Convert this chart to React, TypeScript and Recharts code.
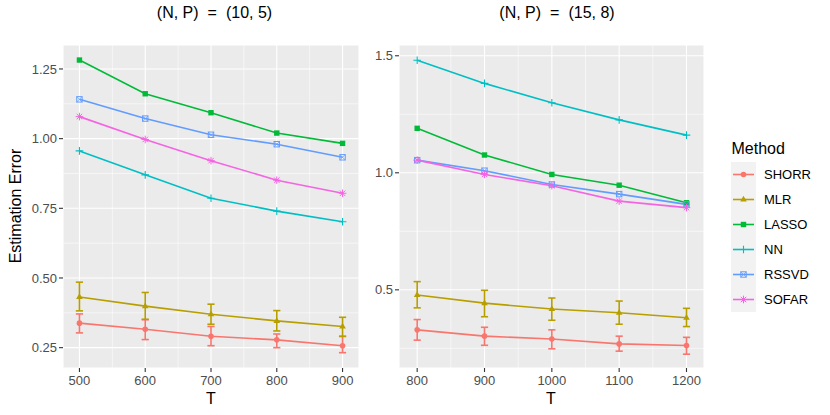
import React from "react";
import { CartesianGrid, ErrorBar, Line, LineChart, ReferenceLine, XAxis, YAxis } from "recharts";

const methods = ["SHORR", "MLR", "LASSO", "NN", "RSSVD", "SOFAR"];
const methodColors = ["#F8766D", "#B79F00", "#00BA38", "#00BFC4", "#619CFF", "#F564E3"];
const methodShapes = ["circle", "triangle", "square", "plus", "squareCross", "asterisk"];

// (N, P) = (10, 5)
const tLeft = [500, 600, 700, 800, 900];
const leftShorr = [0.338, 0.316, 0.291, 0.278, 0.257];
const leftShorrLow = [0.303, 0.279, 0.257, 0.25, 0.232];
const leftShorrHigh = [0.371, 0.35, 0.326, 0.299, 0.29];
const leftMlr = [0.432, 0.399, 0.37, 0.346, 0.326];
const leftMlrLow = [0.382, 0.352, 0.334, 0.31, 0.291];
const leftMlrHigh = [0.485, 0.448, 0.406, 0.383, 0.359];
const leftLasso = [1.282, 1.161, 1.093, 1.02, 0.983];
const leftNn = [0.956, 0.87, 0.786, 0.74, 0.702];
const leftRssvd = [1.141, 1.072, 1.014, 0.98, 0.933];
const leftSofar = [1.079, 0.997, 0.921, 0.851, 0.804];

// (N, P) = (15, 8)
const tRight = [800, 900, 1000, 1100, 1200];
const rightShorr = [0.329, 0.302, 0.29, 0.269, 0.262];
const rightShorrLow = [0.285, 0.263, 0.248, 0.238, 0.225];
const rightShorrHigh = [0.373, 0.34, 0.329, 0.302, 0.297];
const rightMlr = [0.478, 0.443, 0.418, 0.402, 0.381];
const rightMlrLow = [0.423, 0.385, 0.37, 0.353, 0.343];
const rightMlrHigh = [0.535, 0.498, 0.465, 0.452, 0.421];
const rightLasso = [1.19, 1.076, 0.993, 0.947, 0.872];
const rightNn = [1.481, 1.382, 1.299, 1.226, 1.161];
const rightRssvd = [1.054, 1.009, 0.95, 0.909, 0.865];
const rightSofar = [1.054, 0.993, 0.945, 0.879, 0.851];

const leftYTicks = [0.25, 0.5, 0.75, 1.0, 1.25];
const leftYMinor = [0.375, 0.625, 0.875, 1.125];
const leftXMinor = [550, 650, 750, 850];
const rightYTicks = [0.5, 1.0, 1.5];
const rightYMinor = [0.25, 0.75, 1.25];
const rightXMinor = [850, 950, 1050, 1150];

const FONT = "'Liberation Sans', Arial, Helvetica, sans-serif";

function buildRows(
  ts: number[],
  shorr: number[], shorrLow: number[], shorrHigh: number[],
  mlr: number[], mlrLow: number[], mlrHigh: number[],
  lasso: number[], nn: number[], rssvd: number[], sofar: number[],
) {
  return ts.map((t, i) => ({
    T: t,
    SHORR: shorr[i],
    SHORR_err: [shorr[i] - shorrLow[i], shorrHigh[i] - shorr[i]],
    MLR: mlr[i],
    MLR_err: [mlr[i] - mlrLow[i], mlrHigh[i] - mlr[i]],
    LASSO: lasso[i],
    NN: nn[i],
    RSSVD: rssvd[i],
    SOFAR: sofar[i],
  }));
}

const leftRows = buildRows(tLeft, leftShorr, leftShorrLow, leftShorrHigh, leftMlr, leftMlrLow, leftMlrHigh, leftLasso, leftNn, leftRssvd, leftSofar);
const rightRows = buildRows(tRight, rightShorr, rightShorrLow, rightShorrHigh, rightMlr, rightMlrLow, rightMlrHigh, rightLasso, rightNn, rightRssvd, rightSofar);

function Marker({ shape, cx, cy, color }: { shape: string; cx: number; cy: number; color: string }) {
  if (shape === "circle") return <circle cx={cx} cy={cy} r={2.8} fill={color} />;
  if (shape === "triangle")
    return <polygon points={`${cx},${cy - 3.7} ${cx - 3.3},${cy + 2} ${cx + 3.3},${cy + 2}`} fill={color} />;
  if (shape === "square") return <rect x={cx - 2.7} y={cy - 2.7} width={5.4} height={5.4} fill={color} />;
  if (shape === "plus")
    return <path d={`M${cx - 3.8},${cy}H${cx + 3.8}M${cx},${cy - 3.8}V${cy + 3.8}`} stroke={color} strokeWidth={1.1} fill="none" />;
  if (shape === "squareCross")
    return (
      <g stroke={color} strokeWidth={1} fill="none">
        <rect x={cx - 2.7} y={cy - 2.7} width={5.4} height={5.4} />
        <path d={`M${cx - 2.7},${cy - 2.7}L${cx + 2.7},${cy + 2.7}M${cx - 2.7},${cy + 2.7}L${cx + 2.7},${cy - 2.7}`} strokeWidth={0.7} />
      </g>
    );
  const d = 2.7;
  return (
    <path
      d={`M${cx - 3.8},${cy}H${cx + 3.8}M${cx},${cy - 3.8}V${cy + 3.8}M${cx - d},${cy - d}L${cx + d},${cy + d}M${cx - d},${cy + d}L${cx + d},${cy - d}`}
      stroke={color}
      strokeWidth={1}
      fill="none"
    />
  );
}

type PanelProps = {
  rows: any[];
  left: number;
  width: number;
  marginLeft: number;
  yAxisWidth: number;
  xDomain: [number, number];
  xTicks: number[];
  xMinor: number[];
  yDomain: [number, number];
  yTicks: number[];
  yMinor: number[];
  digits: number;
};

function Panel({ rows, left, width, marginLeft, yAxisWidth, xDomain, xTicks, xMinor, yDomain, yTicks, yMinor, digits }: PanelProps) {
  const tick = { fontSize: 13, fill: "#4D4D4D", fontFamily: FONT };
  return (
    <div style={{ position: "absolute", left, top: 0 }}>
      <LineChart width={width} height={415} data={rows} margin={{ top: 45, right: 6, bottom: 0, left: marginLeft }}>
        <CartesianGrid fill="#EBEBEB" fillOpacity={1} stroke="#FFFFFF" strokeWidth={1.1} />
        {xMinor.map((v) => (
          <ReferenceLine key={`x${v}`} x={v} stroke="#FFFFFF" strokeWidth={0.55} />
        ))}
        {yMinor.map((v) => (
          <ReferenceLine key={`y${v}`} y={v} stroke="#FFFFFF" strokeWidth={0.55} />
        ))}
        <XAxis
          type="number"
          dataKey="T"
          domain={xDomain}
          ticks={xTicks}
          allowDataOverflow
          height={47}
          axisLine={false}
          tickLine={{ stroke: "#333333", strokeWidth: 1.1 }}
          tickSize={4}
          tickMargin={4}
          tick={tick}
        />
        <YAxis
          type="number"
          domain={yDomain}
          ticks={yTicks}
          allowDataOverflow
          width={yAxisWidth}
          axisLine={false}
          tickLine={{ stroke: "#333333", strokeWidth: 1.1 }}
          tickSize={4}
          tickMargin={2}
          tick={tick}
          tickFormatter={(v: number) => v.toFixed(digits)}
        />
        {methods.map((m, mi) => (
          <Line
            key={m}
            type="linear"
            dataKey={m}
            stroke={methodColors[mi]}
            strokeWidth={1.6}
            isAnimationActive={false}
            activeDot={false}
            dot={(p: any) => (
              <Marker key={`${m}-${p.index}`} shape={methodShapes[mi]} cx={p.cx} cy={p.cy} color={methodColors[mi]} />
            )}
          >
            {(m === "SHORR" || m === "MLR") && (
              <ErrorBar dataKey={`${m}_err`} direction="y" width={3.6} stroke={methodColors[mi]} strokeWidth={1.6} isAnimationActive={false} />
            )}
          </Line>
        ))}
      </LineChart>
    </div>
  );
}

function Title({ x, label }: { x: number; label: string }) {
  return (
    <text x={x} y={17.6} textAnchor="middle" fontSize={16} fill="#000">
      <tspan>(N, P)</tspan>
      <tspan dx={9}>=</tspan>
      <tspan dx={9}>{label}</tspan>
    </text>
  );
}

export default function App() {
  return (
    <div style={{ position: "absolute", left: 0, top: 0, width: 830, height: 415, background: "#fff", fontFamily: FONT }}>
      <Panel
        rows={leftRows}
        left={0}
        width={365}
        marginLeft={23}
        yAxisWidth={40}
        xDomain={[475, 925]}
        xTicks={tLeft}
        xMinor={leftXMinor}
        yDomain={[0.177, 1.336]}
        yTicks={leftYTicks}
        yMinor={leftYMinor}
        digits={2}
      />
      <Panel
        rows={rightRows}
        left={365}
        width={345}
        marginLeft={0}
        yAxisWidth={34}
        xDomain={[773, 1226]}
        xTicks={tRight}
        xMinor={rightXMinor}
        yDomain={[0.166, 1.546]}
        yTicks={rightYTicks}
        yMinor={rightYMinor}
        digits={1}
      />
      <svg width={830} height={415} style={{ position: "absolute", left: 0, top: 0, pointerEvents: "none" }} fontFamily={FONT}>
        <Title x={214.5} label="(10, 5)" />
        <Title x={557} label="(15, 8)" />
        <text x={211} y={403.5} textAnchor="middle" fontSize={16} fill="#000">T</text>
        <text x={551} y={403.5} textAnchor="middle" fontSize={16} fill="#000">T</text>
        <text transform="rotate(-90)" x={-206} y={21} textAnchor="middle" fontSize={16} fill="#000">
          Estimation Error
        </text>
        <text x={731.5} y={154} fontSize={16} fill="#000">Method</text>
        <rect x={731} y={162} width={25} height={150} fill="#F2F2F2" />
        {methods.map((m, i) => {
          const cy = 174.5 + i * 25;
          return (
            <g key={m}>
              <line x1={733} x2={754} y1={cy} y2={cy} stroke={methodColors[i]} strokeWidth={1.6} />
              <Marker shape={methodShapes[i]} cx={743.5} cy={cy} color={methodColors[i]} />
              <text x={764} y={cy + 4.7} fontSize={13} fill="#000">{m}</text>
            </g>
          );
        })}
      </svg>
    </div>
  );
}
